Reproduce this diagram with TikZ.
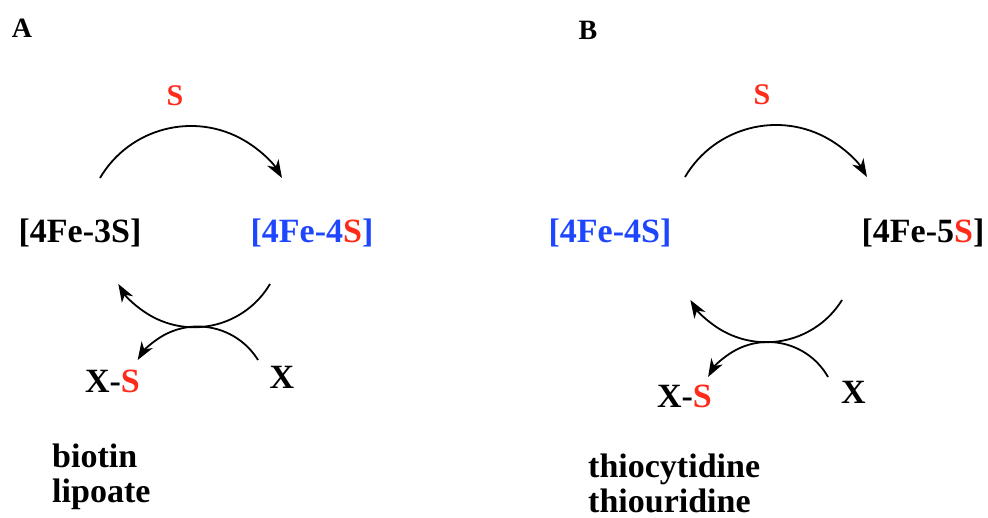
\documentclass[tikz,border=0pt]{standalone}
\usepackage{fontspec}
\setmainfont{Liberation Serif}
\usetikzlibrary{arrows.meta}
\definecolor{sred}{RGB}{255,42,26}
\definecolor{fblue}{RGB}{30,70,255}
\tikzset{
  big/.style={font=\fontsize{34}{35}\selectfont\bfseries, inner sep=0pt, anchor=base},
  sulf/.style={font=\fontsize{30}{31}\selectfont\bfseries, inner sep=0pt, anchor=base, text=sred},
  panel/.style={font=\fontsize{28}{29}\selectfont\bfseries, inner sep=0pt, anchor=base},
  lbl/.style={font=\fontsize{34}{35}\selectfont\bfseries, inner sep=0pt, anchor=base west},
  arr/.style={line width=1.8pt, -{Stealth[length=18pt,width=13pt,inset=5.5pt]}},
}
\begin{document}
\begin{tikzpicture}[x=1pt,y=-1pt]
\useasboundingbox (0,0) rectangle (988,518);
% ---- panel A ----
\node[panel] (pA) at (22,38) {A};
\node[sulf] (sA) at (175,106) {S};
\node[big] (c3A) at (80,243) {[4Fe-3S]};
\node[big,text=fblue] (c4A) at (312,243) {[4Fe-4\textcolor{sred}{S}]};
\node[big] (xsA) at (112.5,392) {X-\textcolor{sred}{S}};
\node[big] (xA) at (282,389) {X};
\node[lbl] (bioA) at (52,467) {biotin};
\node[lbl] (lipA) at (52,502) {lipoate};
\coordinate (tA1) at (100,178);
\coordinate (uA1) at (270,284);
\coordinate (lA1) at (258,360);
\draw[arr] (tA1) arc[start angle=149.5, end angle=30.5, radius=105.6pt];
\draw[arr] (uA1) arc[start angle=-30.6, end angle=-149.4, radius=88.1pt];
\draw[arr] (lA1) arc[start angle=31.8, end angle=148.2, radius=70.8pt];
% ---- panel B ----
\node[panel] (pB) at (588,40) {B};
\node[sulf] (sB) at (762,105) {S};
\node[big,text=fblue] (c4B) at (610,243) {[4Fe-4S]};
\node[big] (c5B) at (923,243) {[4Fe-5\textcolor{sred}{S}]};
\node[big] (xsB) at (684.5,408) {X-\textcolor{sred}{S}};
\node[big] (xB) at (853.5,404) {X};
\node[lbl] (thcB) at (588,477) {thiocytidine};
\node[lbl] (thuB) at (588,512) {thiouridine};
\coordinate (tB1) at (685,177);
\coordinate (uB1) at (842,300);
\coordinate (lB1) at (828,377);
\draw[arr] (tB1) arc[start angle=149.5, end angle=30.5, radius=105.6pt];
\draw[arr] (uB1) arc[start angle=-31.8, end angle=-148.2, radius=89.2pt];
\draw[arr] (lB1) arc[start angle=29.5, end angle=150.5, radius=68.9pt];
\end{tikzpicture}
\end{document}
